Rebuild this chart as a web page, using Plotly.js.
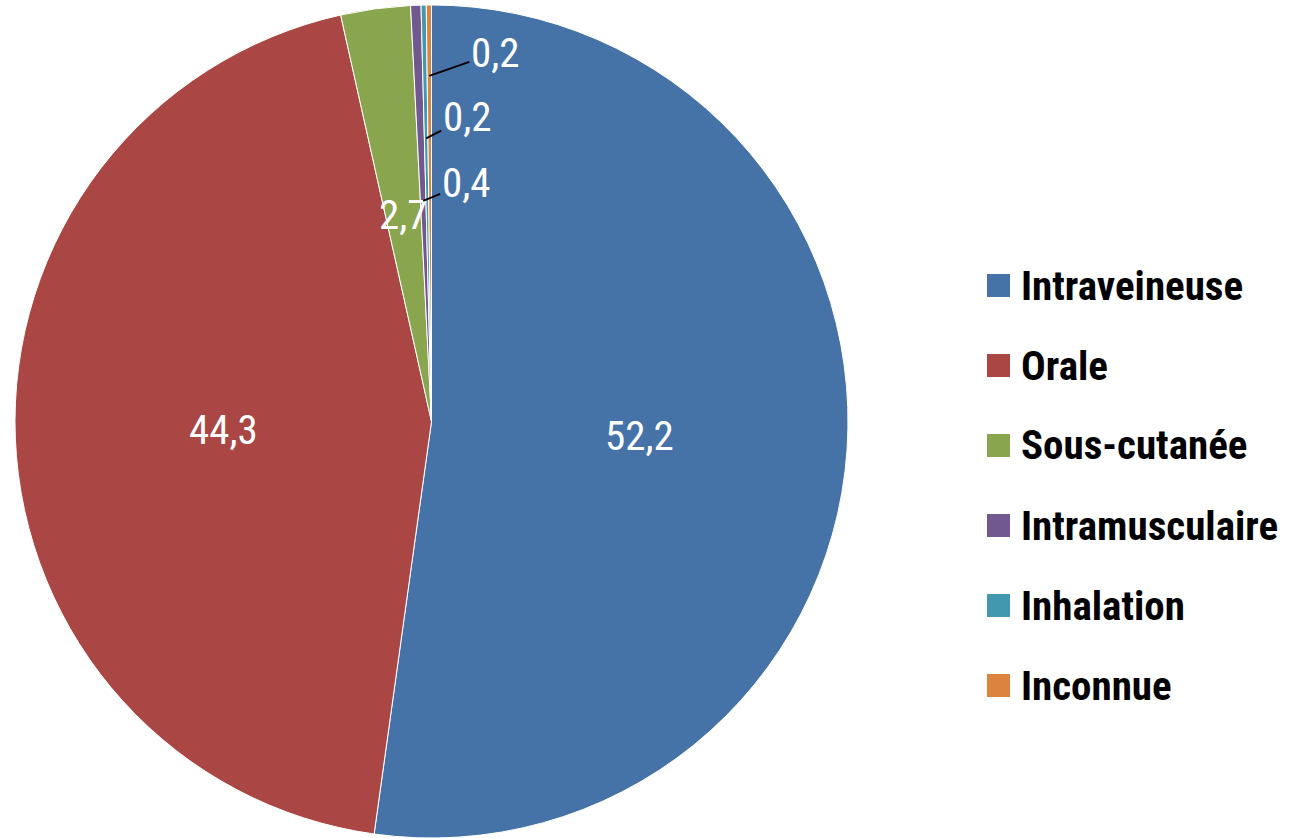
<!DOCTYPE html>
<html>
<head>
<meta charset="utf-8">
<script src="https://cdn.plot.ly/plotly-3.0.1.min.js"></script>
<style>html,body{margin:0;padding:0;background:#fff;}#chart{width:1289px;height:838px;}</style>
</head>
<body>
<div id="chart"></div>
<script>
// ---- data ----
const labels = ['Intraveineuse', 'Orale', 'Sous-cutanée', 'Intramusculaire', 'Inhalation', 'Inconnue'];
const values = [52.2, 44.3, 2.7, 0.4, 0.2, 0.2];
const colors = ['#4572A7', '#AA4643', '#89A54E', '#71588F', '#4198AF', '#DB843D'];

// ---- layout settings (positions / styles) ----
const W = 1289, H = 838;
const FONT = 'Roboto Condensed, Liberation Sans Narrow, Arial Narrow, sans-serif';
const dom = {x: [14 / W, 849 / W], y: [0, 833 / H]};
const Rpx = Math.min((dom.x[1] - dom.x[0]) * W, (dom.y[1] - dom.y[0]) * H) / 2;
const cx = (dom.x[0] + dom.x[1]) / 2, cy = (dom.y[0] + dom.y[1]) / 2;
// per-slice label placement: r = radius fraction of anchor, ax/ay = text offset in px (absent = no leader line)
const labelPlacement = [
  {r: 0.5}, {r: 0.5}, {r: 0.5},
  {r: 0.53, ax: 43, ay: -18},
  {r: 0.68, ax: 41, ay: -21},
  {r: 0.83, ax: 66, ay: -23}
];

const fmt = v => v.toFixed(1).replace('.', ',');
const total = values.reduce((a, b) => a + b, 0);

const annotations = [];
let cum = 0;
values.forEach((v, i) => {
  const mid = (cum + v / 2) / total;
  cum += v;
  const th = 2 * Math.PI * mid;
  const p = labelPlacement[i];
  const r = p.r * Rpx;
  const x = cx + r * Math.sin(th) / W;
  const y = cy + r * Math.cos(th) / H;
  const a = {
    x: x, y: y, xref: 'paper', yref: 'paper',
    text: fmt(v),
    font: {family: FONT, size: 41, color: '#ffffff'}
  };
  if (p.ax !== undefined) {
    Object.assign(a, {showarrow: true, ax: p.ax, ay: p.ay, arrowhead: 0, arrowwidth: 1.8,
      arrowcolor: '#000000', standoff: 0, startstandoff: 0});
  } else {
    Object.assign(a, {showarrow: false, xanchor: 'center', yanchor: 'middle'});
  }
  annotations.push(a);
});

// custom legend (large square swatches)
const shapes = [];
const legX0 = 987, legSize = 23, legTextX = 1019, legY0 = 285.5, legStep = 80;
labels.forEach((lab, i) => {
  const yc = legY0 + i * legStep;
  shapes.push({
    type: 'rect', xref: 'paper', yref: 'paper',
    x0: legX0 / W, x1: (legX0 + legSize) / W,
    y0: 1 - (yc + legSize / 2) / H, y1: 1 - (yc - legSize / 2) / H,
    fillcolor: colors[i], line: {width: 0}
  });
  annotations.push({
    x: legTextX / W, y: 1 - yc / H, xref: 'paper', yref: 'paper',
    xanchor: 'left', yanchor: 'middle', showarrow: false,
    text: lab,
    font: {family: FONT, size: 41, color: '#000000', weight: 'bold'}
  });
});

const trace = {
  type: 'pie',
  labels: labels,
  values: values,
  sort: false,
  direction: 'clockwise',
  rotation: 0,
  marker: {colors: colors, line: {color: '#ffffff', width: 1}},
  textinfo: 'none',
  hoverinfo: 'label+value',
  domain: dom,
  showlegend: false
};

const layout = {
  width: W, height: H,
  margin: {l: 0, r: 0, t: 0, b: 0},
  paper_bgcolor: '#ffffff',
  showlegend: false,
  separators: ', ',
  annotations: annotations,
  shapes: shapes
};

Plotly.newPlot('chart', [trace], layout, {displayModeBar: false, staticPlot: true});
</script>
</body>
</html>
